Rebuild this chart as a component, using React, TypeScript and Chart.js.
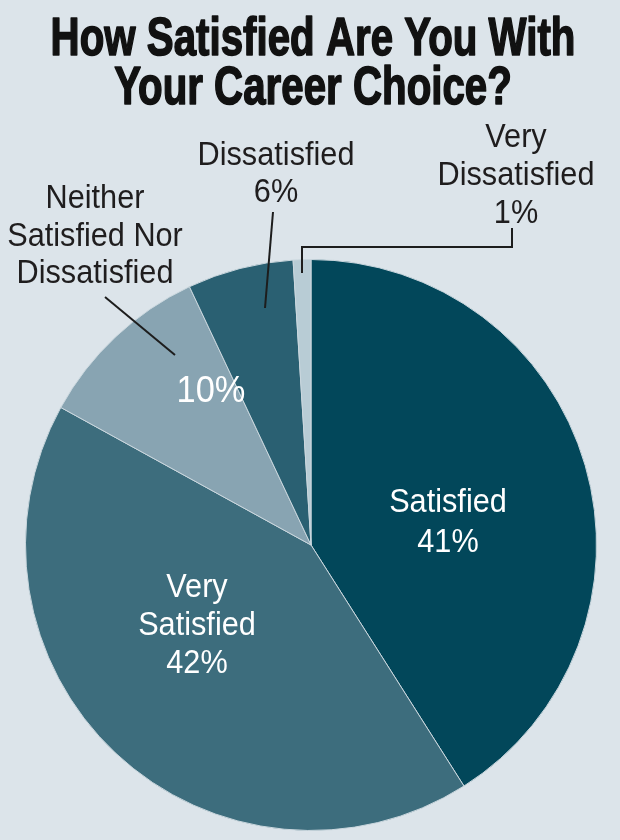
import React, { useEffect, useRef } from "react";
import { Chart, registerables } from "chart.js";

Chart.register(...registerables);

// ---- data ----
const titleLines = ["How Satisfied Are You With", "Your Career Choice?"];
const categories = [
  "Satisfied",
  "Very Satisfied",
  "Neither Satisfied Nor Dissatisfied",
  "Dissatisfied",
  "Very Dissatisfied",
];
const categoryLabelLines = [
  ["Satisfied"],
  ["Very", "Satisfied"],
  ["Neither", "Satisfied Nor", "Dissatisfied"],
  ["Dissatisfied"],
  ["Very", "Dissatisfied"],
];
const percentValues = [41, 42, 10, 6, 1];

// ---- styles ----
const sliceColors = ["#02475a", "#3d6d7d", "#88a4b2", "#2a6072", "#b8ccd5"];
const bgColor = "#dce4ea";
const darkText = "#1f1d1e";
const FONT = '"Liberation Sans", Arial, sans-serif';

// label layout (offsets from pie centre, px)
// pctSeparate: percentage drawn apart from the category text
const labelLayout = [
  { dx: 137, baseDy: -33, lh: 40, color: "#ffffff", size: 33 },
  { dx: -114, baseDy: 52, lh: 38, color: "#ffffff", size: 33 },
  { dx: -216, baseDy: -337, lh: 37.5, color: darkText, size: 33, pct: { dx: -100, dy: -143, size: 37, color: "#ffffff" } },
  { dx: -35, baseDy: -380, lh: 37, color: darkText, size: 33 },
  { dx: 205, baseDy: -398, lh: 38, color: darkText, size: 33 },
];
// leader lines, offsets from pie centre
const leaderLines = [
  [[-206, -248], [-136, -190]],
  [[-38, -333], [-46, -237]],
  [[-9, -272], [-9, -298], [201, -298], [201, -317]],
];

function drawScaled(ctx: CanvasRenderingContext2D, text: string, x: number, y: number, sx: number, stroke = 0) {
  ctx.save();
  ctx.translate(x, y);
  ctx.scale(sx, 1);
  if (stroke > 0) {
    ctx.lineWidth = stroke;
    ctx.lineJoin = "round";
    ctx.strokeText(text, 0, 0);
  }
  ctx.fillText(text, 0, 0);
  ctx.restore();
}

const annotationPlugin = {
  id: "annotations",
  beforeDraw(chart: any) {
    const ctx = chart.ctx as CanvasRenderingContext2D;
    ctx.save();
    ctx.fillStyle = bgColor;
    ctx.fillRect(0, 0, chart.width, chart.height);
    ctx.restore();
  },
  afterDraw(chart: any) {
    const ctx = chart.ctx as CanvasRenderingContext2D;
    const arc = chart.getDatasetMeta(0).data[0];
    const cx = arc.x;
    const cy = arc.y;
    ctx.save();
    // title
    ctx.fillStyle = "#111111";
    ctx.strokeStyle = "#111111";
    ctx.textAlign = "center";
    ctx.textBaseline = "alphabetic";
    ctx.font = `bold 53px ${FONT}`;
    drawScaled(ctx, titleLines[0], 313, 55, 0.76, 1.6);
    drawScaled(ctx, titleLines[1], 313, 104, 0.76, 1.6);

    // leader lines
    ctx.strokeStyle = "#1d1d1d";
    ctx.lineWidth = 2;
    leaderLines.forEach((pts) => {
      ctx.beginPath();
      pts.forEach(([dx, dy], i) => {
        if (i === 0) ctx.moveTo(cx + dx, cy + dy);
        else ctx.lineTo(cx + dx, cy + dy);
      });
      ctx.stroke();
    });

    // labels
    categoryLabelLines.forEach((lines, i) => {
      const lay: any = labelLayout[i];
      ctx.fillStyle = lay.color;
      ctx.font = `${lay.size}px ${FONT}`;
      const all = lay.pct ? lines : [...lines, `${percentValues[i]}%`];
      all.forEach((t, j) => {
        drawScaled(ctx, t, cx + lay.dx, cy + lay.baseDy + j * lay.lh, 0.93);
      });
      if (lay.pct) {
        ctx.fillStyle = lay.pct.color;
        ctx.font = `${lay.pct.size}px ${FONT}`;
        drawScaled(ctx, `${percentValues[i]}%`, cx + lay.pct.dx, cy + lay.pct.dy, 0.93);
      }
    });
    ctx.restore();
  },
};

export default function App() {
  const ref = useRef<HTMLCanvasElement | null>(null);
  useEffect(() => {
    if (!ref.current) return;
    const chart = new Chart(ref.current, {
      type: "pie",
      data: {
        labels: categories,
        datasets: [
          {
            data: percentValues,
            backgroundColor: sliceColors,
            borderColor: "#cad7de",
            borderWidth: 1,
          },
        ],
      },
      options: {
        responsive: false,
        animation: false,
        devicePixelRatio: 1,
        layout: { padding: { top: 259, left: 25, right: 23, bottom: 9 } },
        plugins: {
          legend: { display: false },
          tooltip: { enabled: false },
          title: { display: false },
        },
      },
      plugins: [annotationPlugin],
    });
    return () => chart.destroy();
  }, []);
  return (
    <div style={{ position: "absolute", left: 0, top: 0, width: 620, height: 840, background: bgColor }}>
      <canvas ref={ref} width={620} height={840} />
    </div>
  );
}
